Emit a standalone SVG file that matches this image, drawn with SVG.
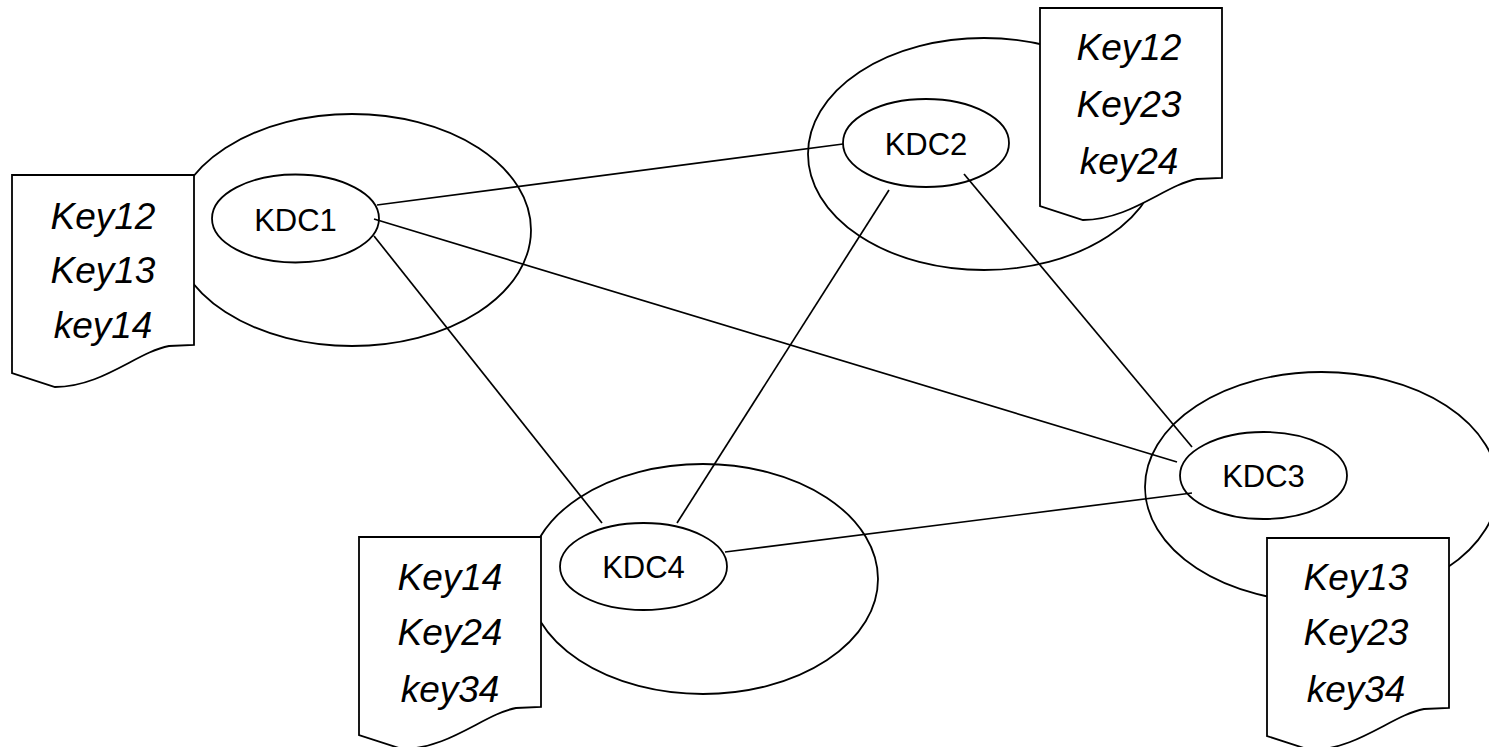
<svg xmlns="http://www.w3.org/2000/svg" xmlns:xlink="http://www.w3.org/1999/xlink" width="1489" height="747" viewBox="0 0 1489 747">
<style>
.outer{fill:none;stroke:#000;stroke-width:1.8}
.kdc{fill:none;stroke:#000;stroke-width:1.8}
.doc{fill:#fff;stroke:#000;stroke-width:1.8;stroke-linejoin:miter}
.conn line{stroke:#000;stroke-width:1.7}
.lbl{font-family:"Liberation Sans",Arial,sans-serif;font-size:31px;fill:#000;text-anchor:middle}
.key{font-family:"Liberation Sans",Arial,sans-serif;font-size:37px;font-style:italic;fill:#000;text-anchor:middle}
</style>
<defs>
<path id="docshape" d="M0,0 H182 V170 L157,171 C125,177 90,212 43,212 L0,198 Z"/>
</defs>
<rect width="1489" height="747" fill="#fff"/>
<g id="connectors" class="conn">
<line x1="377" y1="205" x2="843" y2="144"/>
<line x1="374" y1="219" x2="1177" y2="462"/>
<line x1="374" y1="236" x2="602" y2="523"/>
<line x1="889" y1="190" x2="677" y2="523"/>
<line x1="964" y1="174" x2="1192" y2="447"/>
<line x1="725" y1="552" x2="1192" y2="493"/>
</g>
<g id="node-kdc1">
<ellipse class="outer" cx="352" cy="230" rx="179" ry="116"/>
<use xlink:href="#docshape" href="#docshape" class="doc" x="12" y="175"/>
<ellipse class="kdc" cx="295.5" cy="218.5" rx="83.5" ry="44"/>
<text class="lbl" x="295.5" y="231">KDC1</text>
<text class="key" x="103" y="229">Key12</text>
<text class="key" x="103" y="283">Key13</text>
<text class="key" x="103" y="338">key14</text>
</g>
<g id="node-kdc2">
<ellipse class="outer" cx="984" cy="154" rx="176" ry="116"/>
<use xlink:href="#docshape" href="#docshape" class="doc" x="1040" y="8"/>
<ellipse class="kdc" cx="926" cy="143" rx="83" ry="44"/>
<text class="lbl" x="926" y="155">KDC2</text>
<text class="key" x="1129" y="60">Key12</text>
<text class="key" x="1129" y="117">Key23</text>
<text class="key" x="1129" y="174">key24</text>
</g>
<g id="node-kdc3">
<ellipse class="outer" cx="1321.5" cy="487" rx="176.5" ry="115"/>
<use xlink:href="#docshape" href="#docshape" class="doc" x="1267" y="538"/>
<ellipse class="kdc" cx="1263.5" cy="475.5" rx="83.5" ry="43.5"/>
<text class="lbl" x="1263.5" y="487">KDC3</text>
<text class="key" x="1356" y="590">Key13</text>
<text class="key" x="1356" y="645">Key23</text>
<text class="key" x="1356" y="702">key34</text>
</g>
<g id="node-kdc4">
<ellipse class="outer" cx="703" cy="579" rx="175" ry="115"/>
<use xlink:href="#docshape" href="#docshape" class="doc" x="359" y="537"/>
<ellipse class="kdc" cx="643.5" cy="566.5" rx="83.5" ry="43.5"/>
<text class="lbl" x="643.5" y="578">KDC4</text>
<text class="key" x="450" y="590">Key14</text>
<text class="key" x="450" y="645">Key24</text>
<text class="key" x="450" y="702">key34</text>
</g>
</svg>
